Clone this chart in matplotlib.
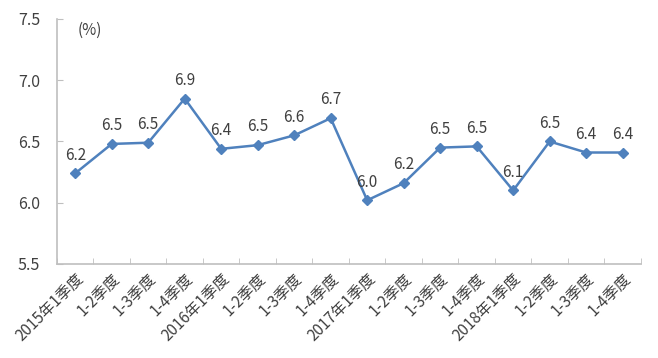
import matplotlib
matplotlib.use("Agg")
import matplotlib.pyplot as plt
import numpy as np

plt.rcParams['font.family'] = ['Noto Sans CJK SC', 'DejaVu Sans']

quarters = ['2015年1季度', '1-2季度', '1-3季度', '1-4季度',
            '2016年1季度', '1-2季度', '1-3季度', '1-4季度',
            '2017年1季度', '1-2季度', '1-3季度', '1-4季度',
            '2018年1季度', '1-2季度', '1-3季度', '1-4季度']
growth = [6.24, 6.48, 6.49, 6.85, 6.44, 6.47, 6.55, 6.69,
          6.02, 6.16, 6.45, 6.46, 6.10, 6.50, 6.41, 6.41]
labels = ['6.2', '6.5', '6.5', '6.9', '6.4', '6.5', '6.6', '6.7',
          '6.0', '6.2', '6.5', '6.5', '6.1', '6.5', '6.4', '6.4']

fig = plt.figure(figsize=(6.58, 3.58), dpi=100)
ax = fig.add_axes([0.0866, 0.2626, 0.8874, 0.6844])

x = np.arange(len(growth))
ax.plot(x, growth, color='#4F81BD', lw=1.8, marker='D', ms=5)

for xi, yi, lab in zip(x, growth, labels):
    ax.annotate(lab, (xi, yi), xytext=(0, 7), textcoords='offset points',
                ha='center', va='bottom', fontsize=11, color='#404040')

ax.set_xlim(-0.5, len(growth) - 0.5)
ax.set_ylim(5.5, 7.5)
ax.set_yticks([5.5, 6.0, 6.5, 7.0, 7.5])
ax.set_yticklabels(['5.5', '6.0', '6.5', '7.0', '7.5'], fontsize=11.5, color='#404040')

ax.set_xticks(x)
ax.set_xticklabels(quarters, rotation=45, ha='right', rotation_mode='anchor',
                   fontsize=11, color='#404040')
ax.tick_params(axis='x', length=0, pad=5)
ax.set_xticks(np.arange(-0.5, len(growth)), minor=True)
ax.tick_params(axis='x', which='minor', direction='in', length=4, color='#BFBFBF')
ax.tick_params(axis='y', direction='in', length=4, color='#BFBFBF', pad=12)

for s in ['top', 'right']:
    ax.spines[s].set_visible(False)
for s in ['left', 'bottom']:
    ax.spines[s].set_color('#BFBFBF')
    ax.spines[s].set_linewidth(1.2)

ax.text(0.035, 0.99, '(%)', transform=ax.transAxes, ha='left', va='top',
        fontsize=11, color='#404040')

fig.savefig('out.png', dpi=100)
